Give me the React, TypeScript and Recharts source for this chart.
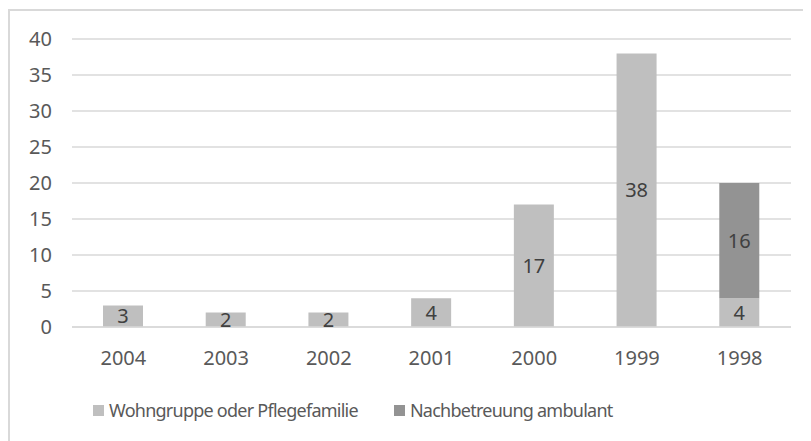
import React from 'react';
import { BarChart, Bar, XAxis, YAxis, CartesianGrid, Legend, LabelList } from 'recharts';

const years = ['2004', '2003', '2002', '2001', '2000', '1999', '1998'];
const wohngruppe = [3, 2, 2, 4, 17, 38, 4];
const ambulant = [0, 0, 0, 0, 0, 0, 16];
const yTicks = [0, 5, 10, 15, 20, 25, 30, 35, 40];

const seriesNames = ['Wohngruppe oder Pflegefamilie', 'Nachbetreuung ambulant'];
const seriesColors = ['#bfbfbf', '#939393'];

const data = years.map((year, i) => ({
  year,
  wohngruppe: wohngruppe[i],
  ambulant: ambulant[i],
}));

const FONT = '"Noto Sans", sans-serif';
const hideZero = (v: any) => (Number(v) === 0 ? '' : v);

// fixed order legend, like the office chart
const renderLegend = () => (
  <div style={{ display: 'flex', height: 30, alignItems: 'center', paddingLeft: 83 }}>
    {seriesNames.map((name, i) => (
      <div key={name} style={{ display: 'flex', alignItems: 'center', marginRight: 36 }}>
        <span style={{ width: 11, height: 11, background: seriesColors[i], marginRight: 5 }} />
        <span style={{ fontSize: 18, letterSpacing: -0.75, color: '#595959', fontFamily: FONT }}>
          {name}
        </span>
      </div>
    ))}
  </div>
);

export default function App() {
  return (
    <div
      style={{
        marginTop: 1,
        width: 803,
        height: 432,
        borderTop: '2px solid #d9d9d9',
        borderLeft: '2px solid #d9d9d9',
        boxSizing: 'border-box',
        fontFamily: FONT,
      }}
    >
      <BarChart
        width={801}
        height={430}
        data={data}
        margin={{ top: 28, right: 20, left: 0, bottom: 22 }}
      >
        <CartesianGrid vertical={false} stroke="#d9d9d9" strokeWidth={1.5} />
        <XAxis
          dataKey="year"
          axisLine={{ stroke: '#d9d9d9', strokeWidth: 1.5 }}
          tickLine={false}
          tickSize={0}
          tickMargin={24}
          tick={{ fill: '#595959', fontSize: 20, fontFamily: FONT }}
          height={62}
        />
        <YAxis
          domain={[0, 40]}
          ticks={yTicks}
          axisLine={false}
          tickLine={false}
          tickSize={0}
          tickMargin={20}
          width={62}
          tick={{ fill: '#595959', fontSize: 20, fontFamily: FONT }}
        />
        <Legend
          verticalAlign="bottom"
          content={renderLegend}
          wrapperStyle={{ top: 384, left: 0, width: 801, height: 30 }}
        />
        <Bar
          dataKey="wohngruppe"
          name={seriesNames[0]}
          stackId="a"
          fill={seriesColors[0]}
          barSize={40}
          isAnimationActive={false}
        >
          <LabelList
            dataKey="wohngruppe"
            position="center"
            formatter={hideZero}
            fill="#404040"
            fontSize={20}
            fontFamily={FONT}
          />
        </Bar>
        <Bar
          dataKey="ambulant"
          name={seriesNames[1]}
          stackId="a"
          fill={seriesColors[1]}
          barSize={40}
          isAnimationActive={false}
        >
          <LabelList
            dataKey="ambulant"
            position="center"
            formatter={hideZero}
            fill="#404040"
            fontSize={20}
            fontFamily={FONT}
          />
        </Bar>
      </BarChart>
    </div>
  );
}
